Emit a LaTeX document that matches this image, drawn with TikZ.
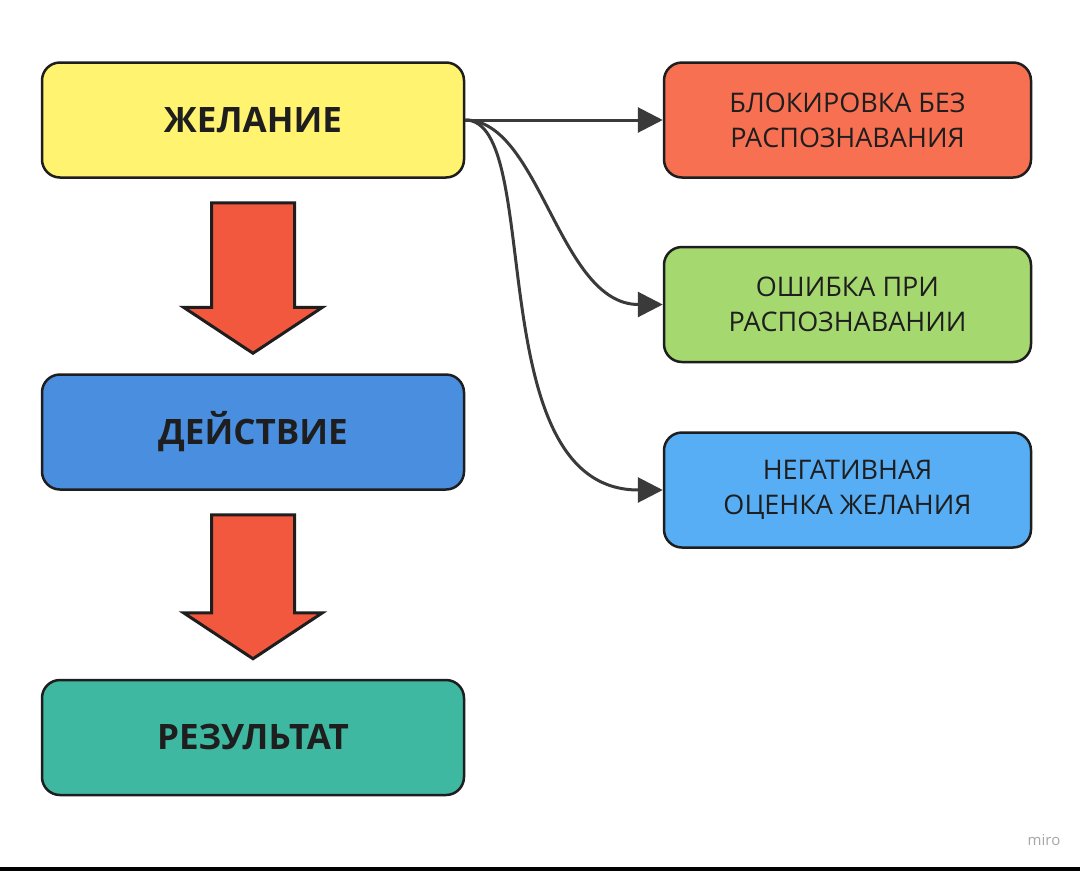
\documentclass[tikz,border=0pt]{standalone}
\usepackage{fontspec}
\setmainfont{Open Sans}
\usetikzlibrary{arrows.meta,calc}

\newcommand{\BigArrow}[2]{%
\draw[bigarrow] ($(#1.south)+(-41.5,24)$) -- ($(#1.south)+(41.5,24)$) -- ($(#2.north)+(41.5,-66)$) -- ($(#2.north)+(69.5,-66)$) -- ($(#2.north)+(0,-20)$) -- ($(#2.north)+(-69.5,-66)$) -- ($(#2.north)+(-41.5,-66)$) -- cycle;}

\definecolor{wish}{RGB}{255,243,112}
\definecolor{act}{RGB}{74,142,224}
\definecolor{res}{RGB}{62,184,160}
\definecolor{blk}{RGB}{247,112,82}
\definecolor{err}{RGB}{166,216,112}
\definecolor{neg}{RGB}{88,174,245}
\definecolor{arr}{RGB}{242,88,62}
\definecolor{ink}{RGB}{30,30,30}
\definecolor{wire}{RGB}{58,58,58}

\begin{document}
\begin{tikzpicture}[x=1pt,y=-1pt,
  box/.style={draw=ink, line width=2.5pt, rounded corners=18pt, minimum height=115pt, text=ink, align=center},
  main/.style={box, minimum width=422pt, font=\fontsize{35}{42}\selectfont\bfseries},
  side/.style={box, minimum width=367pt, font=\fontsize{27}{35}\selectfont},
  bigarrow/.style={fill=arr, draw=ink, line width=3pt, line join=miter},
  wire/.style={draw=wire, line width=3pt, -{Triangle[length=25pt,width=25pt]}}]
\useasboundingbox (0,0) rectangle (1080,871);
\fill[white] (0,0) rectangle (1080,871);
\fill[black] (0,867) rectangle (1080,871);
\node[main, fill=wish] (w) at (253,120) {ЖЕЛАНИЕ};
\node[main, fill=act] (a) at (253,432) {ДЕЙСТВИЕ};
\node[main, fill=res] (r) at (253,737.5) {РЕЗУЛЬТАТ};
\node[side, fill=blk] (e1) at (847.5,120) {БЛОКИРОВКА БЕЗ\\РАСПОЗНАВАНИЯ};
\node[side, fill=err] (e2) at (847.5,304.5) {ОШИБКА ПРИ\\РАСПОЗНАВАНИИ};
\node[side, fill=neg] (e3) at (847.5,490) {НЕГАТИВНАЯ\\ОЦЕНКА ЖЕЛАНИЯ};
\node[text=gray!70, font=\fontsize{15}{18}\selectfont] (m) at (1044,840) {miro};
\BigArrow{w}{a}
\BigArrow{a}{r}
\draw[wire] (w.east) -- (e1.west);
\draw[wire] (w.east) .. controls +(75,0) and +(-104,0) .. (e2.west);
\draw[wire] (w.east) .. controls +(80,0) and +(-185,0) .. (e3.west);
\end{tikzpicture}
\end{document}
